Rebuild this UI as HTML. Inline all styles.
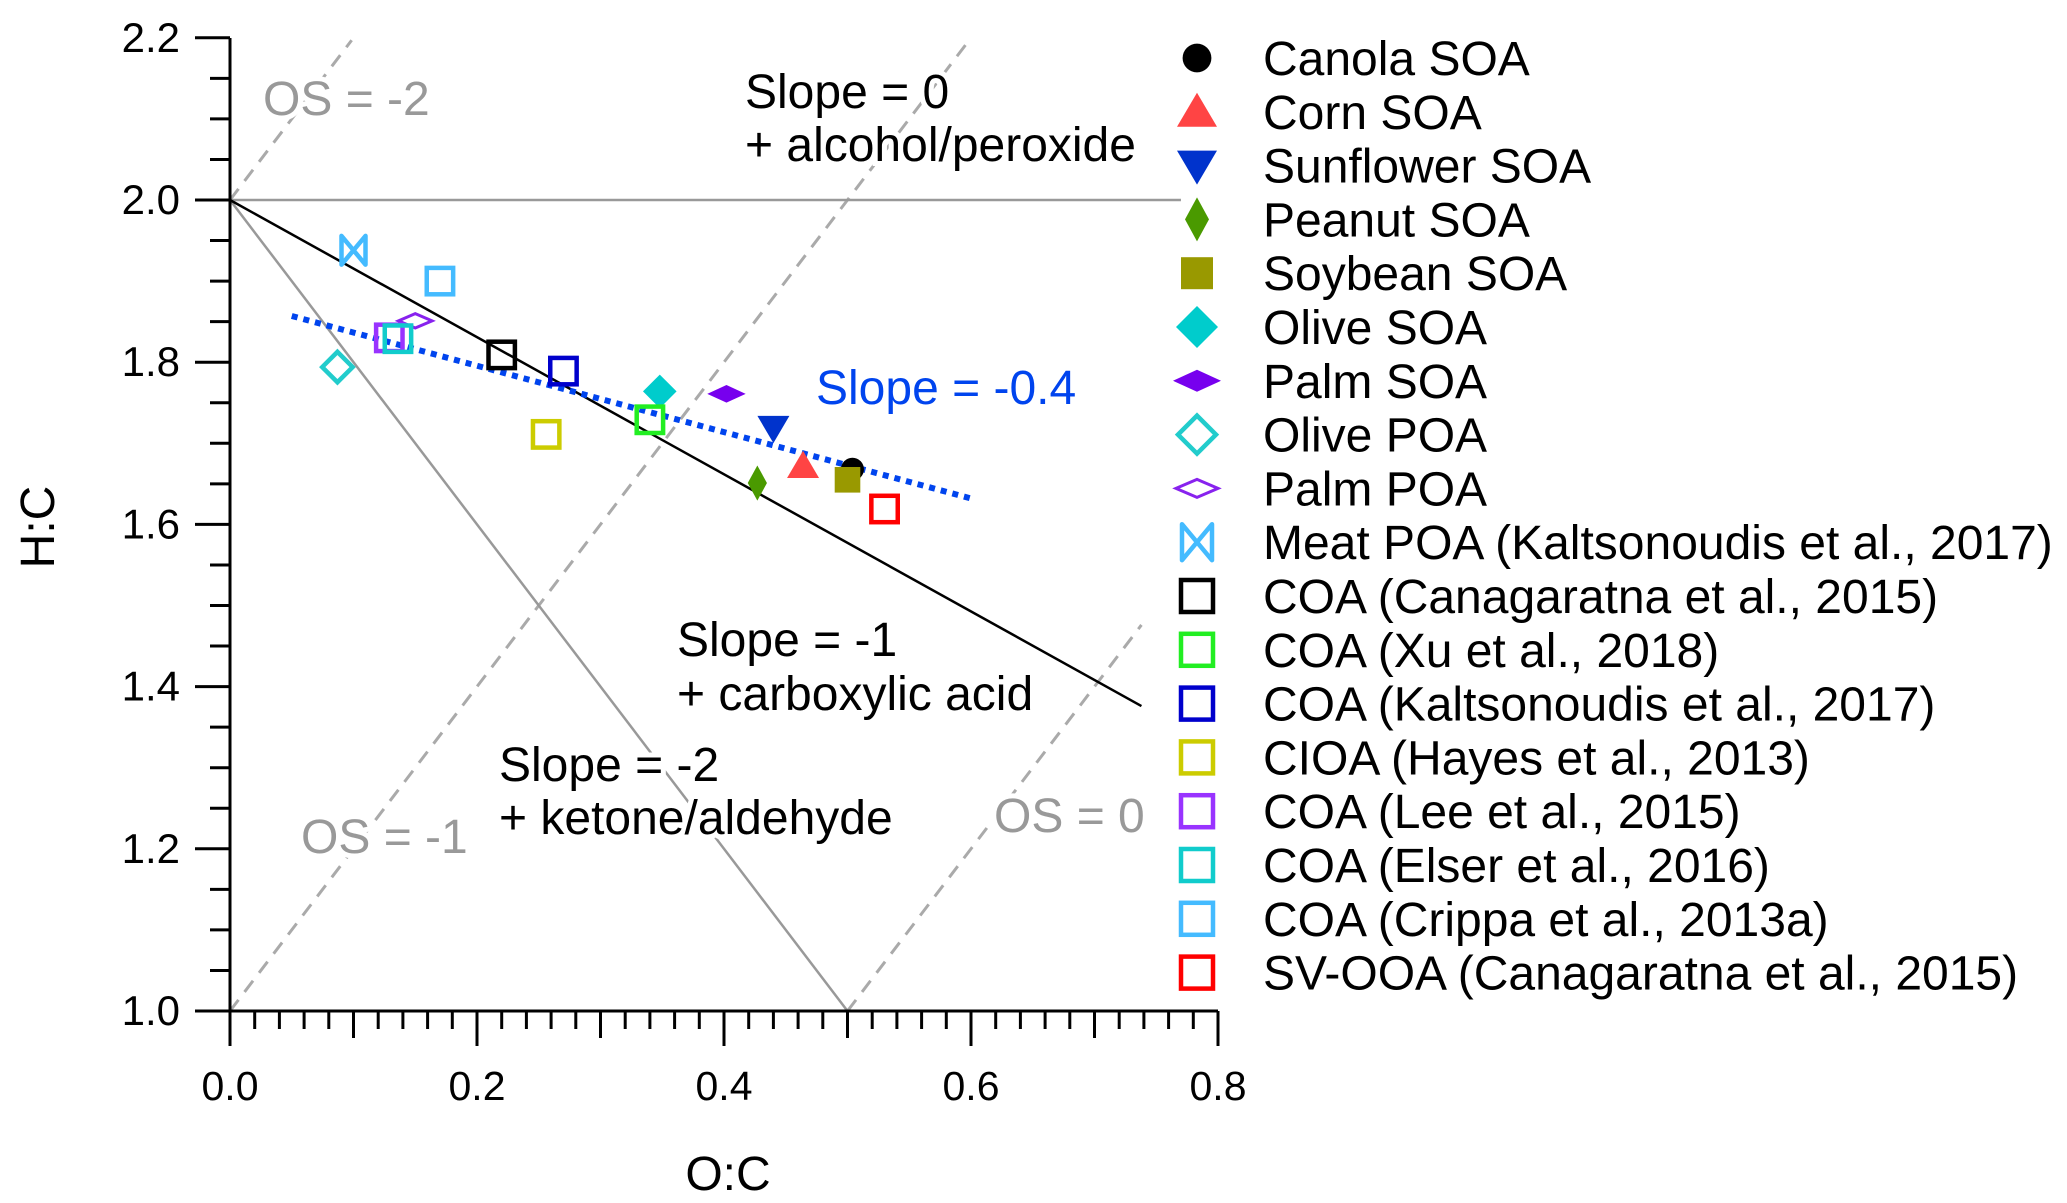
<!DOCTYPE html>
<html><head><meta charset="utf-8"><style>
html,body{margin:0;padding:0;background:#fff;}
svg{display:block;font-family:"Liberation Sans",Arial,sans-serif;}
</style></head><body>
<svg id="chart" width="2067" height="1203" viewBox="0 0 2067 1203" xmlns="http://www.w3.org/2000/svg">
<g id="lines"></g>
<g id="axes"></g>
<g id="annot"></g>
<g id="points"></g>
<g id="legend"></g>
</svg>
<script>
const seriesNames = ["Canola SOA","Corn SOA","Sunflower SOA","Peanut SOA","Soybean SOA","Olive SOA","Palm SOA","Olive POA","Palm POA","Meat POA (Kaltsonoudis et al., 2017)","COA (Canagaratna et al., 2015)","COA (Xu et al., 2018)","COA (Kaltsonoudis et al., 2017)","CIOA (Hayes et al., 2013)","COA (Lee et al., 2015)","COA (Elser et al., 2016)","COA (Crippa et al., 2013a)","SV-OOA (Canagaratna et al., 2015)"];
const ocValues = [0.504,0.464,0.440,0.427,0.500,0.348,0.402,0.087,0.150,0.100,0.220,0.340,0.270,0.256,0.129,0.136,0.170,0.530];
const hcValues = [1.668,1.672,1.719,1.651,1.655,1.764,1.761,1.794,1.851,1.938,1.809,1.729,1.789,1.711,1.830,1.829,1.900,1.619];
const markerTypes = ["circle","tri","dtri","diamondTall","square","diamond","diamondWide","odiamond","odiamondWide","bowtie","osq","osq","osq","osq","osq","osq","osq","osq"];
const colors = ["#000000","#ff4444","#0033cc","#4a9a00","#999900","#00cccc","#7700ee","#22cccc","#8822ee","#44bbff","#000000","#22ee22","#0000cc","#cccc00","#9933ff","#11cccc","#44bbff","#ff0000"];
const xTicks = [0,0.2,0.4,0.6,0.8];
const xTickLabels = ["0.0","0.2","0.4","0.6","0.8"];
const yTicks = [1.0,1.2,1.4,1.6,1.8,2.0,2.2];
const yTickLabels = ["1.0","1.2","1.4","1.6","1.8","2.0","2.2"];
const fitLine = [[0.05,1.857],[0.60,1.632]];

const NS="http://www.w3.org/2000/svg";
const X0=230, XS=1235, Y0=1011, YS=811;
function sx(v){return X0+v*XS;}
function sy(v){return Y0-(v-1)*YS;}
function mk(tag,attrs,parent){const e=document.createElementNS(NS,tag);for(const k in attrs)e.setAttribute(k,attrs[k]);parent.appendChild(e);return e;}
const L=document.getElementById('lines'),A=document.getElementById('axes'),N=document.getElementById('annot'),P=document.getElementById('points'),G=document.getElementById('legend');

function line(p,x1,y1,x2,y2,st,name){const e=mk('line',{x1:sx(x1),y1:sy(y1),x2:sx(x2),y2:sy(y2)},p);for(const k in st)e.setAttribute(k,st[k]);

return e;}
const dash={stroke:'#aaa','stroke-width':3,'stroke-dasharray':'14 10'};
line(L,0,2,0.0985,2.197,dash,'os-minus2-line');
line(L,0,1,0.6,2.2,dash,'os-minus1-line');
line(L,0.5,1,0.738,1.476,dash,'os-0-line');
line(L,0,2,0.77,2,{stroke:'#999','stroke-width':2.5},'slope-0-line');
line(L,0,2,0.5,1,{stroke:'#999','stroke-width':2.5},'slope-minus2-line');
line(L,0,2,0.738,1.376,{stroke:'#000','stroke-width':2.5},'slope-minus1-line');
line(L,fitLine[0][0],fitLine[0][1],fitLine[1][0],fitLine[1][1],{stroke:'#0044ee','stroke-width':6,'stroke-dasharray':'6 6'},'fit-line-slope-0.4');

mk('line',{x1:X0,y1:38,x2:X0,y2:1046,stroke:'#000','stroke-width':3},A);
mk('line',{x1:195,y1:Y0,x2:sx(0.8),y2:Y0,stroke:'#000','stroke-width':3},A);
for(let i=0;i<=40;i++){const v=i*0.02;const x=sx(v);let len=18;if(i%10==0)len=35;else if(i%5==0)len=27;
 const t=mk('line',{x1:x,y1:Y0,x2:x,y2:Y0+len,stroke:'#000','stroke-width':3},A);
 
 }
for(let i=0;i<=24;i++){const v=1+i*0.05;const y=sy(v);const len=(i%4==0)?35:20;
 const t=mk('line',{x1:X0-len,y1:y,x2:X0,y2:y,stroke:'#000','stroke-width':3},A);
 
 }
function text(p,x,y,s,st,name){const e=mk('text',{x:x,y:y},p);e.textContent=s;for(const k in st)e.setAttribute(k,st[k]);

return e;}
xTicks.forEach((v,i)=>text(A,sx(v),1100,xTickLabels[i],{'font-size':41,'text-anchor':'middle'},'x-tick-label'));
yTicks.forEach((v,i)=>text(A,180,sy(v)+14,yTickLabels[i],{'font-size':42,'text-anchor':'end'},'y-tick-label'));
text(A,728,1190,'O:C',{'font-size':48,'text-anchor':'middle'},'x-axis-title');
text(A,0,0,'H:C',{'font-size':48,'text-anchor':'middle',transform:'translate(54,527) rotate(-90)'},'y-axis-title');

const bg={stroke:'#fff','stroke-width':10,'paint-order':'stroke'};
function ann(x,y,s,col,name,size){return text(N,x,y,s,Object.assign({'font-size':size||48,fill:col},bg),name);}
ann(263,115,'OS = -2','#999','os-minus2-label');
ann(745,108,'Slope = 0','#000','slope-0-label');
ann(745,161,'+ alcohol/peroxide','#000','alcohol-peroxide-label');
ann(816,404,'Slope = -0.4','#0044ee','slope-minus0.4-label');
ann(677,656,'Slope = -1','#000','slope-minus1-label');
ann(677,710,'+ carboxylic acid','#000','carboxylic-acid-label');
ann(499,781,'Slope = -2','#000','slope-minus2-label');
ann(499,834,'+ ketone/aldehyde','#000','ketone-aldehyde-label');
ann(301,853,'OS = -1','#999','os-minus1-label');
ann(994,832,'OS = 0','#999','os-0-label');

function marker(p,type,c,x,y,s){
 let e;
 const h=s/2;
 switch(type){
 case 'circle': e=mk('circle',{cx:x,cy:y,r:h*0.72,fill:c},p);break;
 case 'tri': e=mk('polygon',{points:`${x-h},${y+h*0.75} ${x+h},${y+h*0.75} ${x},${y-h*0.95}`,fill:c},p);break;
 case 'dtri': e=mk('polygon',{points:`${x-h},${y-h*0.75} ${x+h},${y-h*0.75} ${x},${y+h*0.95}`,fill:c},p);break;
 case 'diamondTall': e=mk('polygon',{points:`${x},${y-h*1.1} ${x+h*0.6},${y} ${x},${y+h*1.1} ${x-h*0.6},${y}`,fill:c},p);break;
 case 'square': e=mk('rect',{x:x-h*0.8,y:y-h*0.8,width:s*0.8,height:s*0.8,fill:c},p);break;
 case 'diamond': e=mk('polygon',{points:`${x},${y-h*1.05} ${x+h*1.05},${y} ${x},${y+h*1.05} ${x-h*1.05},${y}`,fill:c},p);break;
 case 'diamondWide': e=mk('polygon',{points:`${x},${y-h*0.55} ${x+h*1.2},${y} ${x},${y+h*0.55} ${x-h*1.2},${y}`,fill:c},p);break;
 case 'odiamond': e=mk('polygon',{points:`${x},${y-h*0.95} ${x+h*0.95},${y} ${x},${y+h*0.95} ${x-h*0.95},${y}`,fill:'none',stroke:c,'stroke-width':4.5},p);break;
 case 'odiamondWide': e=mk('polygon',{points:`${x},${y-h*0.45} ${x+h*1.05},${y} ${x},${y+h*0.45} ${x-h*1.05},${y}`,fill:'none',stroke:c,'stroke-width':3},p);break;
 case 'bowtie': e=mk('polygon',{points:`${x-h*0.75},${y-h*0.9} ${x+h*0.75},${y+h*0.9} ${x+h*0.75},${y-h*0.9} ${x-h*0.75},${y+h*0.9}`,fill:'none',stroke:c,'stroke-width':4.5,'stroke-linejoin':'round'},p);break;
 default: e=mk('rect',{x:x-h*0.8,y:y-h*0.8,width:s*0.8,height:s*0.8,fill:'none',stroke:c,'stroke-width':4.5},p);
 }
 return e;
}
seriesNames.forEach((n,i)=>{
 const m=marker(P,markerTypes[i],colors[i],sx(ocValues[i]),sy(hcValues[i]),markerTypes[i]=='osq'?33:32);
 
 
});
seriesNames.forEach((n,i)=>{
 const y=58+i*53.8;
 const g=mk('g',{},G);
 
 
 const m=marker(g,markerTypes[i],colors[i],1197,y,markerTypes[i]=='osq'?40:40);
 
 
 text(g,1263,y+17,n,{'font-size':48},'legend-label');
});
</script>
</body></html>
